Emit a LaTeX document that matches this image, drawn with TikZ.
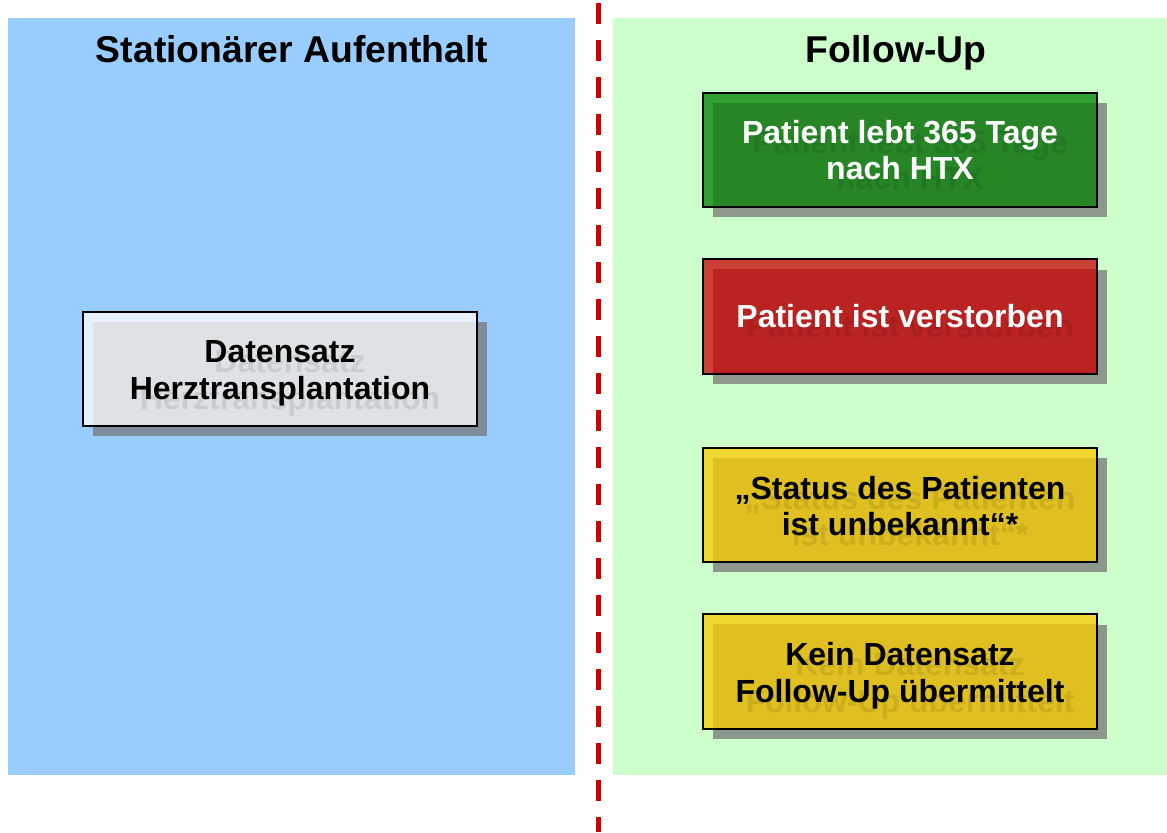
\documentclass[tikz,border=0pt]{standalone}
\usepackage{fontspec}
\setmainfont{Liberation Sans}
\usetikzlibrary{calc}
\definecolor{bgblue}{HTML}{99CCFF}
\definecolor{bggreen}{HTML}{CCFFCC}
\definecolor{dashred}{HTML}{CC0000}
\definecolor{shadowgray}{RGB}{118,118,118}
\definecolor{grayband}{HTML}{E6F0FF}
\definecolor{graymain}{HTML}{DFE2E5}
\definecolor{greenband}{HTML}{33A033}
\definecolor{greenmain}{HTML}{268626}
\definecolor{redband}{HTML}{CC4036}
\definecolor{redmain}{HTML}{BB2222}
\definecolor{yelband}{HTML}{F0D830}
\definecolor{yelmain}{HTML}{E0C020}
\tikzset{
  statebox/.style={minimum width=295.5pt, minimum height=85.5pt, inner sep=0pt, draw=none},
  boxtext/.style={font=\bfseries\fontsize{24}{27.5}\selectfont, align=center, inner sep=0pt},
  titletext/.style={font=\bfseries\fontsize{28}{32}\selectfont, inner sep=0pt, anchor=base},
  boxshadow/.style={fill=shadowgray, fill opacity=0.745},
  boxframe/.style={draw=black, line width=1.2pt},
}
% #1 name, #2 centre, #3 band colour, #4 main colour, #5 text colour, #6 text, #7 text offset
\newcommand\mystatebox[7]{%
  \coordinate (#1c) at #2;
  \fill[boxshadow] ($(#1c)+(-187,-47)$) rectangle ($(#1c)+(207,67)$);
  \node[statebox, fill=#3] (#1) at (#1c) {};
  \fill[#4] ($(#1.north west)+(10,10)$) rectangle (#1.south east);
  \node[boxtext, text=black, text opacity=0.09] (#1s) at ($(#1c)+(10,10+#7)$) {#6};
  \node[boxtext, text=#5] (#1t) at ($(#1c)+(0,#7)$) {#6};
  \draw[boxframe] (#1.north west) rectangle (#1.south east);
}
\begin{document}
\begin{tikzpicture}[x=0.75pt,y=-0.75pt]
  \useasboundingbox (0,0) rectangle (1167,832);
  \fill[white] (0,0) rectangle (1167,832);
  % panels
  \fill[bgblue] (8,18) rectangle (575,775);
  \fill[bggreen] (613,18) rectangle (1167,775);
  % divider
  \coordinate (divtop) at (598,3);
  \coordinate (divbot) at (598,832);
  \draw[dashred, line width=3.75pt, dash pattern=on 15.75pt off 12pt] (divtop) -- (divbot);
  % titles
  \node[titletext] (t1) at (292,62) {Stationärer Aufenthalt};
  \node[titletext] (t2) at (896,62) {Follow-Up};
  % boxes
  \mystatebox{ds}{(280,369)}{grayband}{graymain}{black}{Datensatz\\Herztransplantation}{4}
  \mystatebox{lebt}{(900,150)}{greenband}{greenmain}{white}{Patient lebt 365 Tage\\nach HTX}{0}
  \mystatebox{tot}{(900,316.5)}{redband}{redmain}{white}{Patient ist verstorben}{0}
  \mystatebox{unb}{(900,505)}{yelband}{yelmain}{black}{„Status des Patienten\\ist unbekannt“*}{1}
  \mystatebox{kein}{(900,671.5)}{yelband}{yelmain}{black}{Kein Datensatz\\Follow-Up übermittelt}{4}
\end{tikzpicture}
\end{document}
